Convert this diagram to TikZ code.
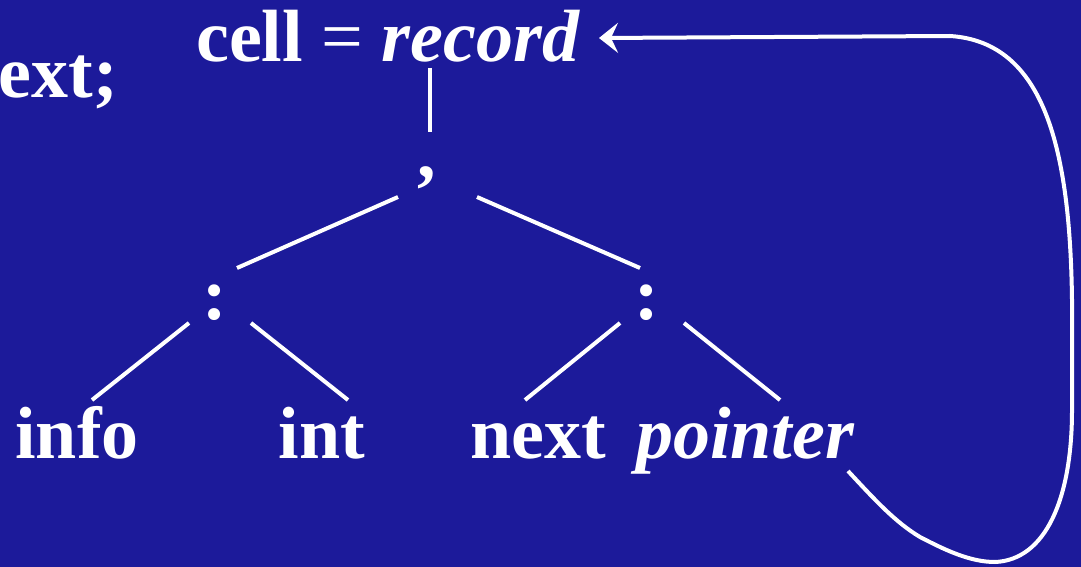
\documentclass[tikz,border=0pt]{standalone}
\usepackage{fontspec}
\setmainfont{Liberation Serif}
\usetikzlibrary{arrows.meta}
\definecolor{bgblue}{RGB}{28,26,154}
\tikzset{
  word/.style={text=white,font=\fontsize{74}{80}\selectfont\bfseries,inner sep=0pt,anchor=base},
  branch/.style={draw=white,line width=4pt},
  backlink/.style={draw=white,line width=4pt,-{Stealth[length=19pt,width=30pt,inset=7pt]}}
}
\begin{document}
\begin{tikzpicture}[x=1pt,y=-1pt]
\fill[bgblue] (0,0) rectangle (1081,567);
\useasboundingbox (0,0) rectangle (1081,567);
\begin{scope}
\clip (0,0) rectangle (1081,567);
\node[word,anchor=base east] (ext) at (118,98) {ext;};
\node[word,anchor=base west] (cell) at (196,62) {cell {\mdseries=} \textit{record}};
\node[word] (comma) at (427,177) {,};
\node[word] (colL) at (215,319) {:};
\node[word] (colR) at (647,319) {:};
\node[word] (info) at (77,458) {info};
\node[word] (int) at (322,458) {int};
\node[word] (next) at (538,458) {next};
\node[word,anchor=base west] (pointer) at (636,458) {\textit{pointer}};
% connector end points
\coordinate (cellB) at (430,68);
\coordinate (commaT) at (430,132);
\coordinate (commaL) at (398,197);
\coordinate (commaR) at (477,197);
\coordinate (colLT) at (237,268);
\coordinate (colRT) at (640,268);
\coordinate (colLl) at (189,323);
\coordinate (colLr) at (251,323);
\coordinate (colRl) at (620,323);
\coordinate (colRr) at (684,323);
\coordinate (infoT) at (92,400);
\coordinate (intT) at (348,400);
\coordinate (nextT) at (525,400);
\coordinate (pointerT) at (780,400);
\coordinate (pointerE) at (848,471);
\coordinate (recordE) at (599,38);
\draw[branch] (cellB) -- (commaT);
\draw[branch] (commaL) -- (colLT);
\draw[branch] (commaR) -- (colRT);
\draw[branch] (colLl) -- (infoT);
\draw[branch] (colLr) -- (intT);
\draw[branch] (colRl) -- (nextT);
\draw[branch] (colRr) -- (pointerT);
\draw[backlink] (pointerE)
  .. controls (875,500) and (895,522) .. (920,537)
  .. controls (945,550) and (970,562) .. (995,562)
  .. controls (1045,560) and (1072,500) .. (1072,410)
  -- (1072,300)
  .. controls (1070,150) and (1045,42) .. (950,36)
  -- (recordE);
\end{scope}
\end{tikzpicture}
\end{document}
